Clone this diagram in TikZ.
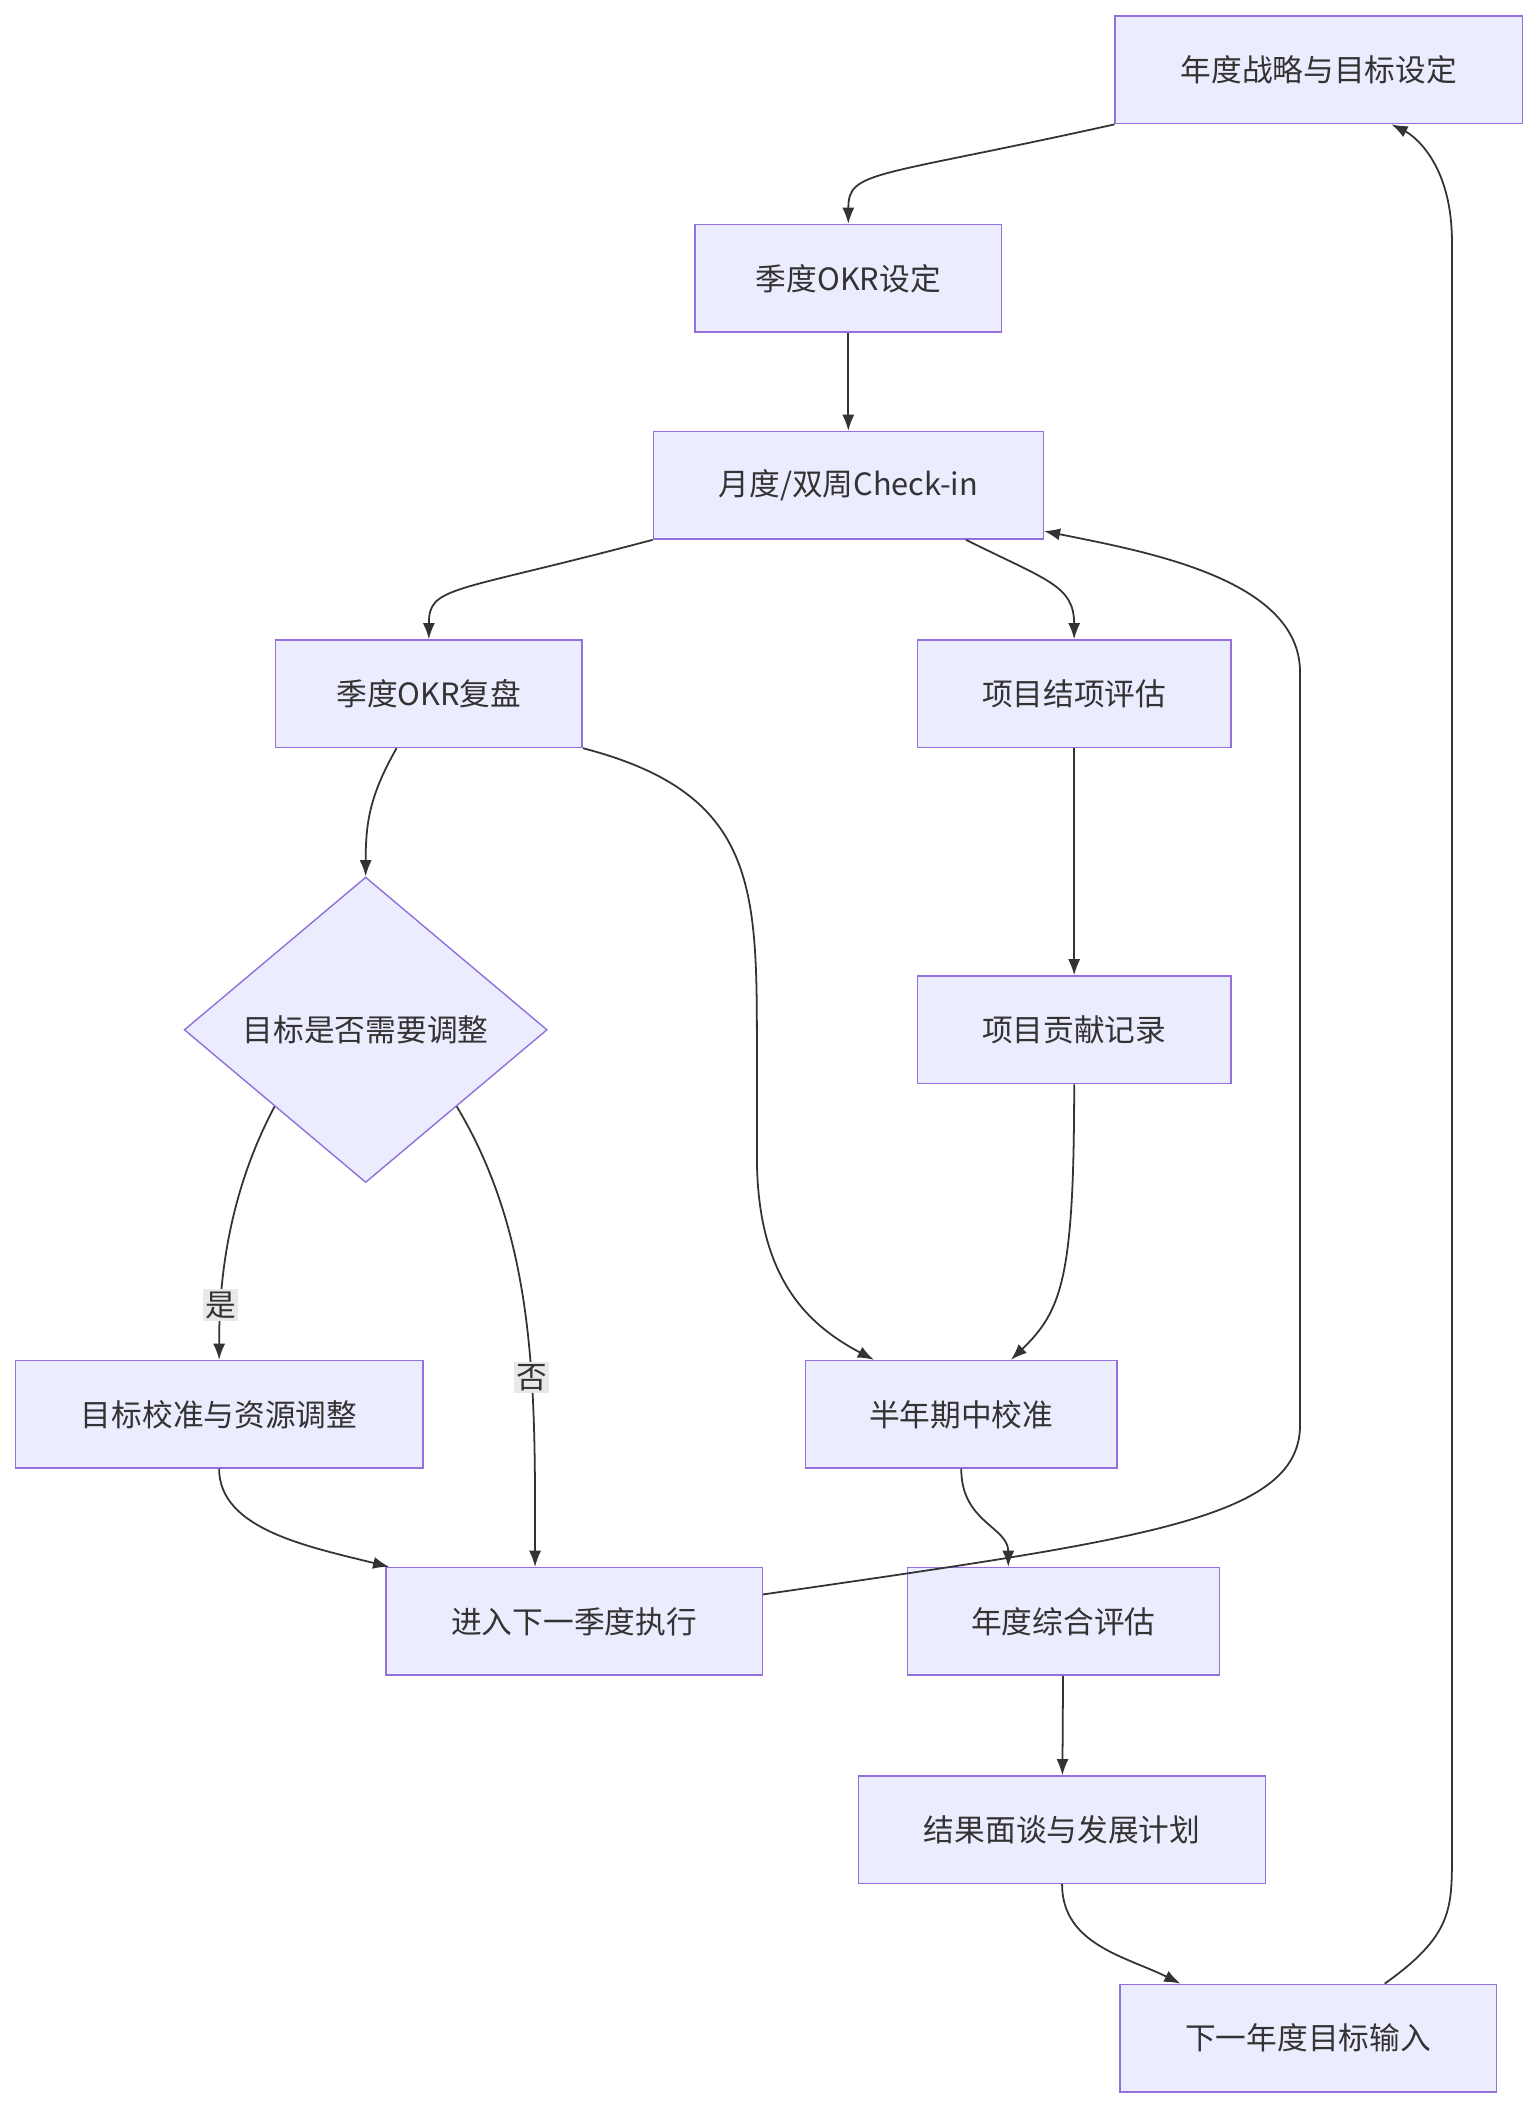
\documentclass[tikz,border=0pt]{standalone}
\usepackage{fontspec}
\setmainfont{Noto Sans CJK SC}
\usepackage{tikz}
\usetikzlibrary{arrows.meta,shapes.geometric,calc}
\definecolor{boxfill}{HTML}{ECECFF}
\definecolor{boxline}{HTML}{9370DB}
\definecolor{edgecol}{HTML}{333333}
\definecolor{lblfill}{HTML}{E8E8E8}
\begin{document}
\begin{tikzpicture}[
  x=0.2mm, y=-0.2mm,
  box/.style={draw=boxline, fill=boxfill, line width=0.6pt, rectangle,
    minimum height=16mm, minimum width=#1, font=\fontsize{13}{15}\selectfont, text=edgecol},
  box/.default=46mm,
  dec/.style={draw=boxline, fill=boxfill, line width=0.6pt, diamond, aspect=1,
    minimum width=54mm, font=\fontsize{13}{15}\selectfont, text=edgecol},
  arr/.style={-{Latex[length=2.4mm,width=1.8mm]}, draw=edgecol, line width=0.75pt},
  lbl/.style={fill=lblfill, inner sep=1pt, font=\fontsize{13}{15}\selectfont, text=edgecol}
]
\useasboundingbox (0,0) rectangle (1145,1568);

\node[box=60.6mm] (annual) at (981,52) {年度战略与目标设定};
\node[box=45.6mm] (qset) at (631,207) {季度OKR设定};
\node[box=58mm] (checkin) at (631,361) {月度/双周Check-in};
\node[box=45.6mm] (qreview) at (319,516) {季度OKR复盘};
\node[box=46.6mm] (projeval) at (799,516) {项目结项评估};
\node[dec] (adjust) at (272,766) {目标是否需要调整};
\node[box=46.6mm] (projrec) at (799,766) {项目贡献记录};
\node[box=60.6mm] (calib) at (163,1052) {目标校准与资源调整};
\node[box=46.4mm] (midyear) at (715,1052) {半年期中校准};
\node[box=56mm] (nextq) at (427,1206) {进入下一季度执行};
\node[box=46.4mm] (yeareval) at (791,1206) {年度综合评估};
\node[box=60.6mm] (talk) at (790,1361) {结果面谈与发展计划};
\node[box=56mm] (nexty) at (973,1516) {下一年度目标输入};

% edges
\draw[arr] (annual.south west) .. controls +(-180,40) and +(0,-40) .. (qset.north);
\draw[arr] (qset) -- (checkin);
\draw[arr] (checkin.south west) .. controls +(-150,40) and +(0,-40) .. (qreview.north);
\draw[arr] ([xshift=-11.6mm]checkin.south east) .. controls +(60,30) and +(0,-40) .. (projeval.north);
\draw[arr] ([xshift=-4.8mm]qreview.south) .. controls +(-20,35) and +(0,-40) .. (adjust.north);
\draw[arr] (qreview.south east) .. controls (563,590) and (563,660) .. (563,780)
  -- (563,860) .. controls (563,950) and (600,985) .. ([xshift=-13mm]midyear.north);
\draw[arr] (projeval) -- (projrec);
\draw[arr] (projrec.south) .. controls (799,950) and (790,975) .. ([xshift=7.4mm]midyear.north);
\draw[arr] (adjust.south west) .. controls +(-40,75) and +(0,-40) .. (calib.north)
  node[lbl,pos=0.72] {是};
\draw[arr] (adjust.south east) .. controls +(60,100) and +(0,-130) .. ([xshift=-5.8mm]nextq.north)
  node[lbl,pos=0.62] {否};
\draw[arr] (calib.south) .. controls +(0,45) and +(-60,-15) .. ([xshift=0.6mm]nextq.north west);
\draw[arr] (midyear.south) .. controls +(0,40) and +(0,-30) .. ([xshift=-8.2mm]yeareval.north);
\draw[arr] ([yshift=4mm]nextq.east) .. controls (850,1145) and (967,1130) .. (967,1060)
  -- (967,500) .. controls (967,430) and (850,410) .. ([yshift=-6.8mm]checkin.east);
\draw[arr] (yeareval) -- (talk);
\draw[arr] (talk.south) .. controls +(0,45) and +(-40,-20) .. ([xshift=-19mm]nexty.north);
\draw[arr] ([xshift=11.4mm]nexty.north) .. controls (1080,1440) and (1080,1420) .. (1080,1380)
  -- (1080,180) .. controls (1080,120) and (1050,100) .. ([xshift=10.8mm]annual.south);
\end{tikzpicture}
\end{document}
